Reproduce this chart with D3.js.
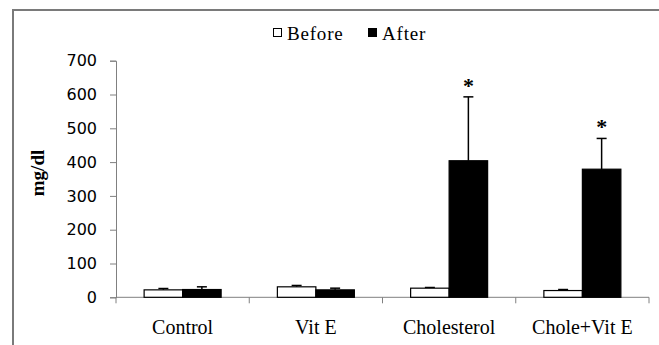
<!DOCTYPE html>
<html>
<head>
<meta charset="utf-8">
<script src="https://cdn.jsdelivr.net/npm/d3@7"></script>
<style>
  body { margin: 0; background: #fff; }
  svg { display: block; }
</style>
</head>
<body>
<script>
// donnees
const categories = ["Control", "Vit E", "Cholesterol", "Chole+Vit E"];
const series = ["Before", "After"];
const beforeVals = [22, 31, 27, 20];
const beforeErr = [4, 4, 2, 3];
const afterVals = [23, 22, 404, 379];
const afterErr = [8, 5, 189, 91];
const starred = [false, false, true, true]; // * sur "After"
const yTicks = [0, 100, 200, 300, 400, 500, 600, 700];

const W = 659, H = 345;
const plotLeft = 116, plotRight = 649, plotTop = 60.7, plotBottom = 297.3;

const svg = d3.select("body").append("svg")
  .attr("width", W).attr("height", H);

// cadre exterieur (ouvert a droite et en bas)
svg.append("path")
  .attr("d", `M13,${H + 5} L13,10 L${W + 5},10`)
  .attr("fill", "none").attr("stroke", "#7a7a7a").attr("stroke-width", 2);

const x = d3.scaleBand().domain(categories).range([plotLeft, plotRight]);
const barW = 38.5;
const xs = d3.scaleBand().domain(series)
  .range([-barW, barW]);

const y = d3.scaleLinear().domain([0, 700]).range([plotBottom, plotTop]);

// axe Y
const yAxis = svg.append("g")
  .attr("transform", `translate(${plotLeft},0)`)
  .call(d3.axisLeft(y).tickValues(yTicks).tickSize(6).tickPadding(13));
yAxis.select(".domain").attr("stroke", "#808080");
yAxis.selectAll(".tick line").attr("stroke", "#808080");
yAxis.selectAll("text")
  .attr("font-family", "DejaVu Sans")
  .attr("font-size", 16)
  .attr("fill", "#000");

// axe X
const xAxis = svg.append("g")
  .attr("transform", `translate(0,${plotBottom})`);
xAxis.append("line")
  .attr("x1", plotLeft).attr("x2", plotRight)
  .attr("stroke", "#808080");
xAxis.selectAll(".sep")
  .data(categories.concat(["end"]))
  .enter().append("line")
  .attr("x1", (d, i) => i < categories.length ? x(d) : plotRight)
  .attr("x2", (d, i) => i < categories.length ? x(d) : plotRight)
  .attr("y1", 0).attr("y2", 6)
  .attr("stroke", "#808080");
xAxis.selectAll(".lab")
  .data(categories)
  .enter().append("text")
  .attr("x", d => x(d) + x.bandwidth() / 2)
  .attr("y", 37)
  .attr("text-anchor", "middle")
  .attr("font-family", "Liberation Serif")
  .attr("font-size", 20)
  .text(d => d);

// barres
const rows = [];
categories.forEach((c, i) => {
  rows.push({ cat: c, s: "Before", v: beforeVals[i], e: beforeErr[i], star: false });
  rows.push({ cat: c, s: "After", v: afterVals[i], e: afterErr[i], star: starred[i] });
});
const cx = d => x(d.cat) + x.bandwidth() / 2 + xs(d.s);

// barres d'erreur (vers le haut seulement)
svg.selectAll(".err")
  .data(rows).enter().append("line")
  .attr("x1", d => cx(d) + xs.bandwidth() / 2)
  .attr("x2", d => cx(d) + xs.bandwidth() / 2)
  .attr("y1", d => y(d.v))
  .attr("y2", d => y(d.v + d.e))
  .attr("stroke", "#000").attr("stroke-width", 1.5);
svg.selectAll(".cap")
  .data(rows).enter().append("line")
  .attr("x1", d => cx(d) + xs.bandwidth() / 2 - 5)
  .attr("x2", d => cx(d) + xs.bandwidth() / 2 + 5)
  .attr("y1", d => y(d.v + d.e))
  .attr("y2", d => y(d.v + d.e))
  .attr("stroke", "#000").attr("stroke-width", 1.5);

svg.selectAll(".bar")
  .data(rows).enter().append("rect")
  .attr("x", d => cx(d))
  .attr("y", d => y(d.v))
  .attr("width", xs.bandwidth())
  .attr("height", d => y(0) - y(d.v))
  .attr("fill", d => d.s === "Before" ? "#fff" : "#000")
  .attr("stroke", "#000").attr("stroke-width", 1.2);

// etoiles
svg.selectAll(".star")
  .data(rows.filter(d => d.star)).enter().append("text")
  .attr("x", d => cx(d) + xs.bandwidth() / 2)
  .attr("y", d => y(d.v + d.e) - 4)
  .attr("text-anchor", "middle")
  .attr("font-family", "Liberation Serif")
  .attr("font-weight", "bold")
  .attr("font-size", 22)
  .text("*");

// titre axe Y
svg.append("text")
  .attr("transform", "translate(44,173) rotate(-90)")
  .attr("text-anchor", "middle")
  .attr("font-family", "Liberation Serif")
  .attr("font-weight", "bold")
  .attr("font-size", 19)
  .text("mg/dl");

// legende
const leg = svg.append("g");
const legX = [273, 368];
series.forEach((s, i) => {
  leg.append("rect")
    .attr("x", legX[i] + 0.5).attr("y", 28.5)
    .attr("width", 8).attr("height", 8)
    .attr("fill", s === "Before" ? "#fff" : "#000")
    .attr("stroke", "#000").attr("stroke-width", 1);
  leg.append("text")
    .attr("x", legX[i] + 14)
    .attr("y", 40)
    .attr("font-family", "Liberation Serif")
    .attr("font-size", 19)
    .attr("letter-spacing", 0.8)
    .text(s);
});
</script>
</body>
</html>
